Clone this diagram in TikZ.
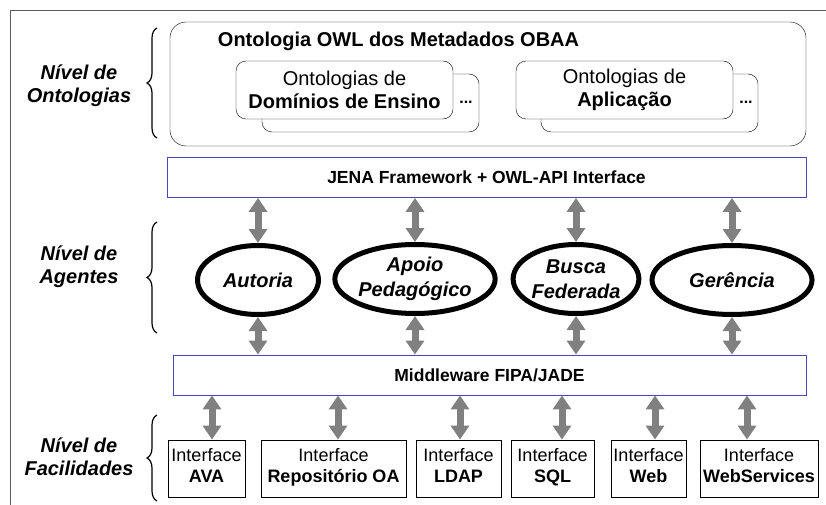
\documentclass[tikz,border=0pt]{standalone}
\usepackage{fontspec}
\setmainfont{Liberation Sans}
\usetikzlibrary{arrows.meta,decorations.pathreplacing,shapes.geometric,calc}
\definecolor{framegray}{RGB}{90,90,90}
\definecolor{arrgray}{RGB}{128,128,128}
\definecolor{layerblue}{RGB}{70,70,190}

\begin{document}
\begin{tikzpicture}[x=1pt,y=-1pt,
  ontobox/.style={draw,fill=white,rounded corners=10pt,minimum width=217pt,minimum height=58pt,inner sep=0pt,align=center,font=\fontsize{20}{22.5}\selectfont},
  layer/.style={draw=layerblue,line width=0.9pt,minimum height=40pt,inner sep=0pt,font=\bfseries\fontsize{17.5}{20}\selectfont},
  agent/.style={ellipse,draw,line width=5pt,minimum height=69pt,inner sep=0pt,align=center,font=\bfseries\itshape\fontsize{20}{25}\selectfont},
  facil/.style={draw,line width=0.9pt,minimum height=57pt,inner sep=0pt,align=center,font=\fontsize{18}{21}\selectfont,
    execute at begin node=\strut,execute at end node=\strut},
  levellabel/.style={align=center,font=\bfseries\itshape\fontsize{20}{23}\selectfont},
  levelbrace/.style={decorate,decoration={brace,amplitude=10pt},line width=1.2pt},
  biarrow/.style={arrgray,line width=7pt,{Triangle[width=18pt,length=14pt]}-{Triangle[width=18pt,length=14pt]}}]
\useasboundingbox (0,0) rectangle (826,505);
\draw[framegray,line width=1pt] (826,11) -- (10,11) -- (10,505);

% ontologias
\node[draw,rounded corners=16pt,minimum width=636pt,minimum height=124pt] (owl) at (488,84) {};
\node[anchor=base,font=\bfseries\fontsize{20}{22}\selectfont] (owltitle) at (398.5,47) {Ontologia OWL dos Metadados OBAA};
\node[ontobox] (ensinoback) at (370.5,103) {};
\node[ontobox] (ensino) at (344.5,90) {Ontologias de\\\textbf{Domínios de Ensino}};
\node[font=\bfseries\fontsize{16}{18}\selectfont] (ensinodots) at (466,102) {...};
\node[ontobox] (aplicback) at (649.5,103) {};
\node[ontobox] (aplic) at (624.5,90) {Ontologias de\\\textbf{Aplicação}};
\node[font=\bfseries\fontsize{16}{18}\selectfont] (aplicdots) at (746,102) {...};

% agentes
\node[layer,minimum width=639pt] (jena) at (486.5,177.5) {JENA Framework + OWL-API Interface};
\node[agent,minimum width=121pt] (autoria) at (258,280) {Autoria};
\node[agent,minimum width=155pt] (apoio) at (415,279) {Apoio\\Pedagógico};
\node[agent,minimum width=113pt] (busca) at (576,279) {Busca\\Federada};
\node[agent,minimum width=160pt] (gerencia) at (732,280) {Gerência};
\node[layer,minimum width=633pt] (fipa) at (489.5,375) {Middleware FIPA/JADE};

\foreach \ag in {autoria,apoio,busca,gerencia}{
  \draw[biarrow] (jena.south -| \ag) -- (\ag.north);
  \draw[biarrow] (\ag.south) -- (fipa.north -| \ag);
}

% facilidades
\node[facil,minimum width=77pt] (ava) at (206.5,468.5) {Interface\\\textbf{AVA}};
\node[facil,minimum width=145pt] (repo) at (333.5,468.5) {Interface\\\textbf{Repositório OA}};
\node[facil,minimum width=85pt] (ldap) at (458.5,468.5) {Interface\\\textbf{LDAP}};
\node[facil,minimum width=83pt] (sql) at (552.5,468.5) {Interface\\\textbf{SQL}};
\node[facil,minimum width=75pt] (web) at (648.5,468.5) {Interface\\\textbf{Web}};
\node[facil,minimum width=118pt] (ws) at (759,468.5) {Interface\\\textbf{WebServices}};

\draw[biarrow] ($(fipa.south -| ava)+(5.5,0)$) -- ($(ava.north)+(5.5,0)$);
\draw[biarrow] ($(fipa.south -| repo)+(4.5,0)$) -- ($(repo.north)+(4.5,0)$);
\draw[biarrow] ($(fipa.south -| ldap)+(1.5,0)$) -- ($(ldap.north)+(1.5,0)$);
\draw[biarrow] ($(fipa.south -| sql)+(9.5,0)$) -- ($(sql.north)+(9.5,0)$);
\draw[biarrow] ($(fipa.south -| web)+(6.5,0)$) -- ($(web.north)+(6.5,0)$);
\draw[biarrow] ($(fipa.south -| ws)+(-12,0)$) -- ($(ws.north)+(-12,0)$);

% niveis
\node[levellabel] (nivonto) at (79,86) {Nível de\\Ontologias};
\node[levellabel] (nivagent) at (79,267) {Nível de\\Agentes};
\node[levellabel] (nivfacil) at (79,457) {Nível de\\Facilidades};
\draw[levelbrace] (157,138) -- (157,28);
\draw[levelbrace] (157,333) -- (157,222);
\draw[levelbrace] (157,501) -- (157,415);
\end{tikzpicture}
\end{document}
